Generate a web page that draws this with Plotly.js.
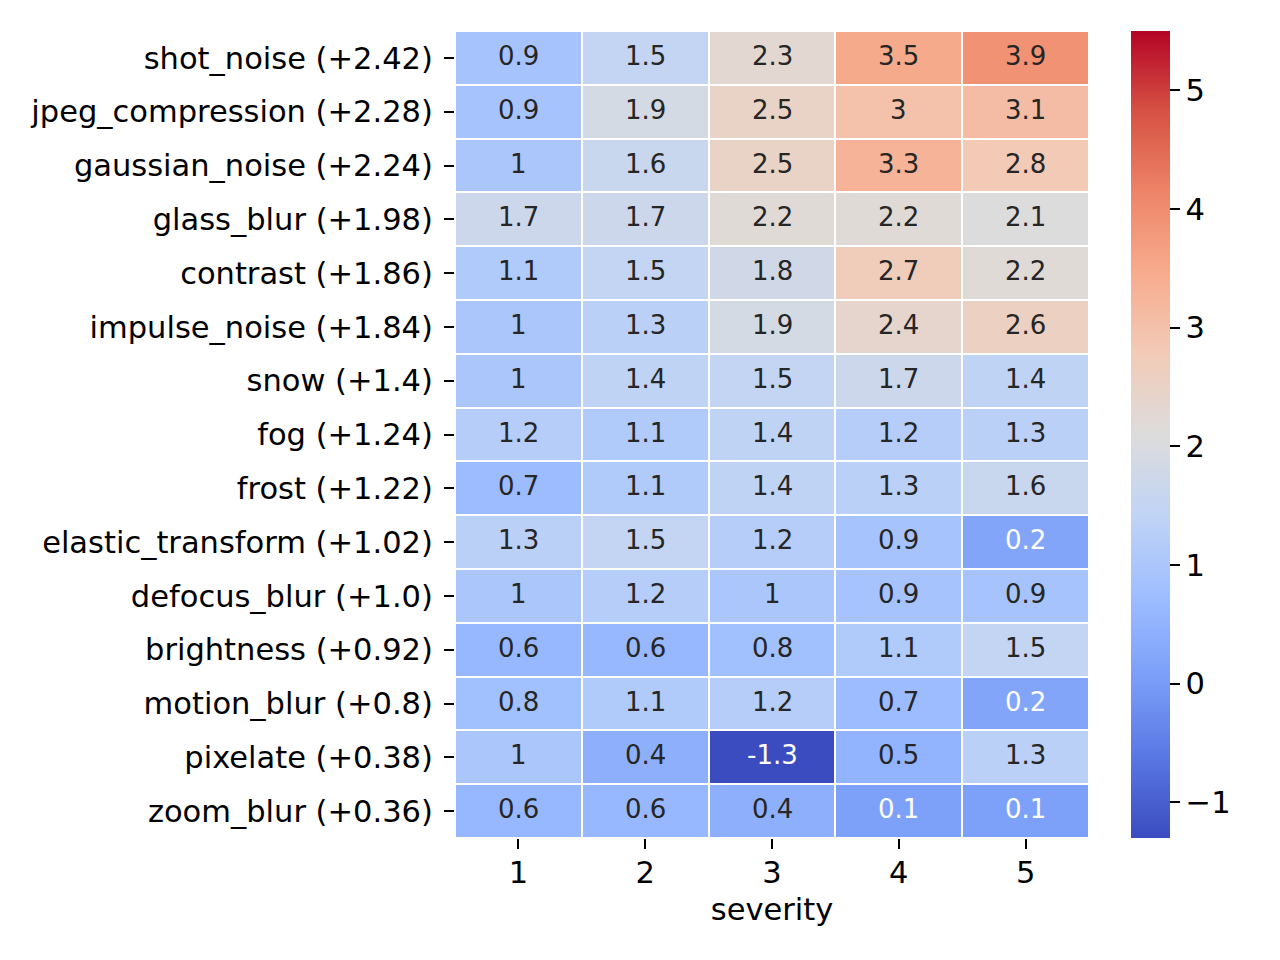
<!DOCTYPE html>
<html>
<head>
<meta charset="utf-8">
<script src="https://cdn.plot.ly/plotly-3.0.1.min.js"></script>
<style>body{margin:0;background:#fff}#chart{width:1280px;height:960px}</style>
</head>
<body>
<div id="chart"></div>
<script>
const rowLabels = [
  "shot_noise (+2.42)", "jpeg_compression (+2.28)", "gaussian_noise (+2.24)",
  "glass_blur (+1.98)", "contrast (+1.86)", "impulse_noise (+1.84)",
  "snow (+1.4)", "fog (+1.24)", "frost (+1.22)", "elastic_transform (+1.02)",
  "defocus_blur (+1.0)", "brightness (+0.92)", "motion_blur (+0.8)",
  "pixelate (+0.38)", "zoom_blur (+0.36)"
];
const severities = ["1", "2", "3", "4", "5"];
const values = [
  [0.9, 1.5, 2.3, 3.5, 3.9],
  [0.9, 1.9, 2.5, 3, 3.1],
  [1, 1.6, 2.5, 3.3, 2.8],
  [1.7, 1.7, 2.2, 2.2, 2.1],
  [1.1, 1.5, 1.8, 2.7, 2.2],
  [1, 1.3, 1.9, 2.4, 2.6],
  [1, 1.4, 1.5, 1.7, 1.4],
  [1.2, 1.1, 1.4, 1.2, 1.3],
  [0.7, 1.1, 1.4, 1.3, 1.6],
  [1.3, 1.5, 1.2, 0.9, 0.2],
  [1, 1.2, 1, 0.9, 0.9],
  [0.6, 0.6, 0.8, 1.1, 1.5],
  [0.8, 1.1, 1.2, 0.7, 0.2],
  [1, 0.4, -1.3, 0.5, 1.3],
  [0.6, 0.6, 0.4, 0.1, 0.1]
];
const zMin = -1.3, zMax = 5.5;

const coolwarm = [
  "#3b4cc0", "#5977e3", "#7b9ff9", "#9ebeff", "#c0d4f5", "#dddcdc",
  "#f2cbb7", "#f7ac8e", "#ee8468", "#d65244", "#b40426"
].map((c, i, a) => [i / (a.length - 1), c]);

const annotations = [];
values.forEach((row, i) => {
  row.forEach((v, j) => {
    annotations.push({
      x: j, y: i, xref: "x", yref: "y", yshift: 2,
      text: String(v), showarrow: false,
      font: {family: "DejaVu Sans", size: 26, color: v <= 0.25 ? "#ffffff" : "#262626"}
    });
  });
});

const tickFont = {family: "DejaVu Sans", size: 30.5, color: "#000000"};

const trace = {
  type: "heatmap",
  x: severities, y: rowLabels, z: values,
  zmin: zMin, zmax: zMax,
  colorscale: coolwarm,
  xgap: 2, ygap: 2,
  colorbar: {
    x: 1.066, xanchor: "left", xpad: 0, y: 0.5, yanchor: "middle",
    len: 1, lenmode: "fraction", thickness: 39, thicknessmode: "pixels",
    outlinewidth: 0, ypad: 0,
    ticks: "outside", ticklen: 10, tickwidth: 2, tickcolor: "#000000",
    ticklabelstandoff: 3,
    tickvals: [-1, 0, 1, 2, 3, 4, 5], ticktext: ["\u22121", "0", "1", "2", "3", "4", "5"],
    tickfont: tickFont
  }
};

const layout = {
  width: 1280, height: 960,
  margin: {l: 455, r: 191, t: 31, b: 122},
  paper_bgcolor: "#ffffff", plot_bgcolor: "#ffffff",
  font: {family: "DejaVu Sans", color: "#000000"},
  xaxis: {
    type: "category", range: [-0.5, 4.5], showgrid: false, zeroline: false, showline: false,
    ticks: "outside", ticklen: 10, tickwidth: 2, tickcolor: "#000000",
    ticklabelstandoff: -3,
    tickfont: tickFont,
    title: {text: "severity", font: tickFont, standoff: 10}
  },
  yaxis: {
    type: "category", range: [14.5, -0.5], showgrid: false, zeroline: false, showline: false,
    ticks: "outside", ticklen: 10, tickwidth: 2, tickcolor: "#000000",
    ticklabelstandoff: 5,
    tickfont: tickFont
  },
  annotations: annotations
};

Plotly.newPlot("chart", [trace], layout, {staticPlot: true, displayModeBar: false});
</script>
</body>
</html>
